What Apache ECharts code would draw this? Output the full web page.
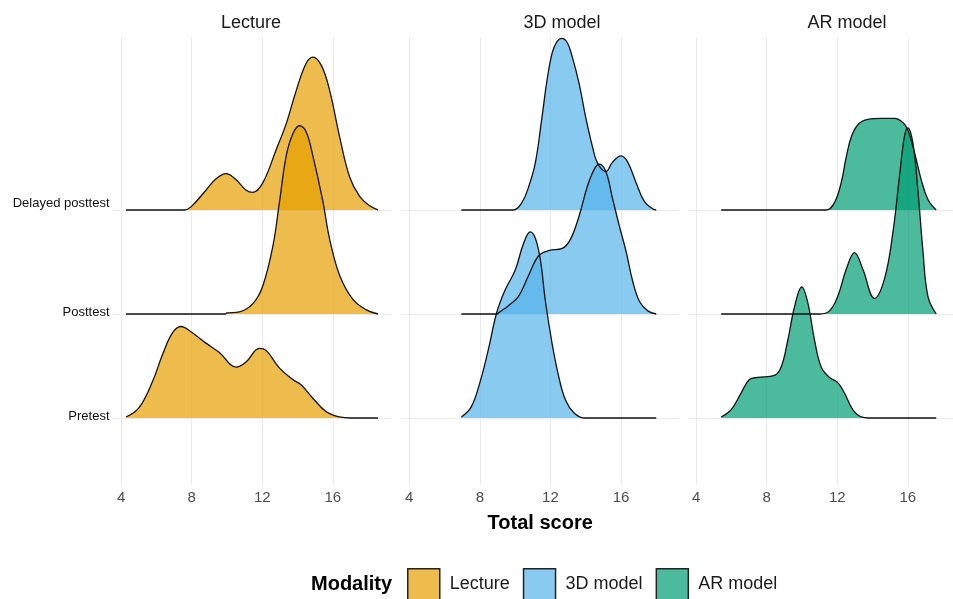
<!DOCTYPE html>
<html><head><meta charset="utf-8">
<script src="https://cdn.jsdelivr.net/npm/echarts@6/dist/echarts.min.js"></script>
<style>html,body{margin:0;padding:0;background:#fff}#c{width:953px;height:599px}</style>
</head><body><div id="c"></div>
<script>
// ---- data (x = total score, h = ridge height in row units) ----
const modalities = ['Lecture', '3D model', 'AR model'];
const rows = ['Pretest', 'Posttest', 'Delayed posttest'];
const xTicks = [4, 8, 12, 16];

const lecturePretest = [[4.28,0.01],[5.02,0.10],[5.78,0.35],[6.35,0.61],[6.92,0.82],[7.39,0.88],[7.96,0.83],[8.81,0.72],[9.57,0.63],[10.52,0.49],[11.09,0.54],[11.84,0.67],[12.22,0.65],[12.98,0.48],[13.73,0.37],[14.2,0.32],[14.87,0.19],[15.63,0.06],[16.39,0.01],[17.0,0],[18.56,0]];
const lecturePosttest = [[4.28,0],[9.9,0],[10.0,0.01],[10.7,0.02],[11.47,0.10],[12.03,0.27],[12.6,0.65],[12.98,1.08],[13.36,1.52],[13.73,1.73],[14.11,1.81],[14.49,1.75],[14.87,1.52],[15.44,1.08],[15.82,0.72],[16.39,0.37],[17.14,0.14],[17.9,0.04],[18.56,0]];
const lectureDelayed = [[4.28,0],[7.58,0],[7.96,0.03],[8.81,0.19],[9.38,0.30],[9.95,0.35],[10.52,0.29],[11.09,0.19],[11.47,0.17],[12.03,0.26],[12.79,0.58],[13.36,0.83],[13.93,1.15],[14.49,1.41],[14.87,1.47],[15.35,1.39],[15.82,1.15],[16.39,0.70],[16.95,0.32],[17.52,0.13],[18.09,0.04],[18.56,0]];

const model3dPretest = [[6.95,0.01],[7.52,0.11],[8.0,0.34],[8.47,0.65],[8.95,1.01],[9.43,1.23],[10.0,1.42],[10.48,1.68],[10.86,1.79],[11.14,1.73],[11.43,1.52],[11.71,1.13],[12.1,0.71],[12.48,0.39],[12.86,0.17],[13.33,0.05],[13.9,0],[18.0,0]];
const model3dPosttest = [[6.95,0],[9.0,0],[9.05,0.01],[9.62,0.08],[10.19,0.17],[10.76,0.37],[11.33,0.56],[11.9,0.61],[12.67,0.63],[13.14,0.72],[13.62,0.94],[14.1,1.23],[14.48,1.39],[14.76,1.44],[15.14,1.37],[15.52,1.11],[15.9,0.85],[16.29,0.60],[16.67,0.31],[17.05,0.12],[17.52,0.03],[18.0,0]];
const model3dDelayed = [[6.95,0],[9.9,0],[10.38,0.07],[10.76,0.22],[11.14,0.45],[11.52,0.89],[11.81,1.25],[12.1,1.51],[12.38,1.62],[12.63,1.65],[12.95,1.61],[13.24,1.47],[13.62,1.22],[14.0,0.89],[14.38,0.61],[14.67,0.45],[15.14,0.37],[15.52,0.46],[16.0,0.52],[16.38,0.46],[16.86,0.26],[17.33,0.08],[17.81,0.01],[18.0,0]];

const arPretest = [[5.42,0.01],[5.99,0.08],[6.55,0.24],[7.02,0.37],[7.49,0.39],[8.44,0.41],[8.82,0.49],[9.2,0.75],[9.58,1.07],[9.99,1.26],[10.33,1.11],[10.71,0.75],[11.09,0.49],[11.56,0.39],[12.03,0.34],[12.41,0.24],[12.88,0.08],[13.36,0.01],[13.8,0],[17.61,0]];
const arPosttest = [[5.42,0],[11.0,0],[11.56,0.03],[12.03,0.17],[12.51,0.43],[12.98,0.59],[13.45,0.43],[14.11,0.15],[14.68,0.34],[15.15,0.78],[15.53,1.33],[15.81,1.71],[16.0,1.79],[16.29,1.64],[16.57,1.19],[16.85,0.62],[17.14,0.17],[17.61,0]];
const arDelayed = [[5.42,0],[11.37,0],[11.84,0.07],[12.22,0.26],[12.51,0.51],[12.79,0.70],[13.17,0.82],[13.73,0.87],[14.49,0.88],[15.25,0.88],[15.72,0.84],[16.0,0.77],[16.38,0.55],[16.76,0.29],[17.14,0.10],[17.61,0]];

const panelData = [
  [lecturePretest, lecturePosttest, lectureDelayed],
  [model3dPretest, model3dPosttest, model3dDelayed],
  [arPretest, arPosttest, arDelayed]
];

// ---- styling / layout ----
const fills = ['rgba(230,159,0,0.7)', 'rgba(86,180,233,0.7)', 'rgba(0,158,115,0.7)'];
const gridLefts = [113.5, 401.7, 688.5];
const gridWidths = [277, 277, 264.5];      // last panel is cut by the picture edge
const xMaxes = [19.27, 19.27, 18.56];      // same px-per-unit in every panel
const titleCenters = [251, 562, 847];
const gridColor = '#ebebeb';
const font = 'Liberation Sans, Arial, sans-serif';

const grids = [], xAxes = [], yAxes = [], series = [], titles = [];
for (let p = 0; p < 3; p++) {
  grids.push({ left: gridLefts[p], width: gridWidths[p], top: 37, height: 448, containLabel: false });
  xAxes.push({
    type: 'value', gridIndex: p, min: 3.57, max: xMaxes[p],
    axisLine: { show: false },
    axisTick: { show: false, customValues: xTicks },
    axisLabel: { customValues: xTicks, color: '#4d4d4d', fontSize: 15, fontFamily: font, margin: 5 },
    splitLine: { show: true, lineStyle: { color: gridColor, width: 1 } },
    name: p === 1 ? 'Total score' : '',
    nameLocation: 'middle', nameGap: 28,
    nameTextStyle: { fontSize: 20, fontWeight: 'bold', color: '#000', fontFamily: font }
  });
  yAxes.push({
    type: 'value', gridIndex: p, min: -0.644, max: 3.663,
    axisLine: { show: false },
    axisTick: { show: false, customValues: [0, 1, 2] },
    axisLabel: {
      show: p === 0, customValues: [0, 1, 2],
      formatter: v => {
        const i = Math.round(v);
        return i === 2 ? '{d|' + rows[i] + '}' : '{n|' + (rows[i] || '') + '}';
      },
      color: '#111', fontSize: 13, fontFamily: font, margin: 4,
      rich: {
        d: { fontSize: 13, color: '#111', fontFamily: font, padding: [0, 0, 14, 0] },
        n: { fontSize: 13, color: '#111', fontFamily: font, padding: [0, 0, 3, 0] }
      }
    },
    splitLine: { show: true, lineStyle: { color: gridColor, width: 1 } }
  });
  titles.push({
    text: modalities[p], left: titleCenters[p], top: 14, textAlign: 'center', padding: 0,
    textStyle: { fontSize: 18, fontWeight: 'normal', color: '#1a1a1a', fontFamily: font }
  });
  // draw order: top row first so lower ridges are in front
  for (let r = 2; r >= 0; r--) {
    series.push({
      type: 'line', name: modalities[p], xAxisIndex: p, yAxisIndex: p,
      data: panelData[p][r].map(([x, h]) => [x, r + h]),
      smooth: 0.4, showSymbol: false, symbol: 'none',
      lineStyle: { color: '#111', width: 1.3 },
      itemStyle: { color: fills[p] },
      areaStyle: { color: fills[p], opacity: 1, origin: r },
      silent: true
    });
  }
}

const chart = echarts.init(document.getElementById('c'), null, { renderer: 'canvas' });
chart.setOption({
  animation: false,
  backgroundColor: '#fff',
  title: titles,
  grid: grids,
  xAxis: xAxes,
  yAxis: yAxes,
  legend: {
    left: 407, top: 568, padding: 0, icon: 'rect', itemWidth: 32, itemHeight: 31, itemGap: 13,
    textStyle: { fontSize: 18, color: '#1a1a1a', fontFamily: font, padding: [0, 0, 0, 5] },
    data: modalities.map((m, i) => ({ name: m, itemStyle: { color: fills[i], borderColor: '#222', borderWidth: 1.5 } })),
    selectedMode: false
  },
  graphic: [{
    type: 'text', left: 311, top: 574,
    style: { text: 'Modality', fontSize: 20, fontWeight: 'bold', fill: '#000', fontFamily: font }
  }],
  series: series
});
</script></body></html>
